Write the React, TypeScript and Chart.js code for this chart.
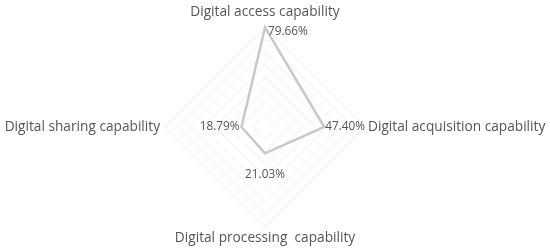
import React, { useEffect, useRef } from "react";
import { Chart, registerables } from "chart.js";

Chart.register(...registerables);

const categories = [
  "Digital access capability",
  "Digital acquisition capability",
  "Digital processing  capability",
  "Digital sharing capability",
];
const values = [79.66, 47.4, 21.03, 18.79];
const valueLabels = ["79.66%", "47.40%", "21.03%", "18.79%"];
const scaleMax = 80;
const scaleStep = 10;

const TEXT = "#555555";
const FONT = "'Open Sans', 'Noto Sans', sans-serif";

const labelPlugin = {
  id: "customLabels",
  afterDatasetsDraw(chart: any) {
    const scale = chart.scales.r;
    const ctx = chart.ctx;
    const meta = chart.getDatasetMeta(0);
    ctx.save();
    ctx.fillStyle = TEXT;
    // category labels
    ctx.font = `13.7px ${FONT}`;
    categories.forEach((c, i) => {
      const p = scale.getPointPosition(i, scale.drawingArea);
      let x = p.x, y = p.y;
      if (i === 0) { ctx.textAlign = "center"; ctx.textBaseline = "middle"; y -= 15; }
      else if (i === 1) { ctx.textAlign = "left"; ctx.textBaseline = "middle"; x += 3; }
      else if (i === 2) { ctx.textAlign = "center"; ctx.textBaseline = "middle"; y += 11; }
      else { ctx.textAlign = "right"; ctx.textBaseline = "middle"; x -= 5; }
      ctx.fillText(c, x, y);
    });
    // value labels
    ctx.font = `11.8px ${FONT}`;
    meta.data.forEach((pt: any, i: number) => {
      let x = pt.x, y = pt.y;
      if (i === 0) { ctx.textAlign = "left"; ctx.textBaseline = "middle"; x += 3; y += 4; }
      else if (i === 1) { ctx.textAlign = "left"; ctx.textBaseline = "middle"; x += 1; }
      else if (i === 2) { ctx.textAlign = "center"; ctx.textBaseline = "middle"; y += 21; }
      else { ctx.textAlign = "right"; ctx.textBaseline = "middle"; x -= 2; }
      ctx.fillText(valueLabels[i], x, y);
    });
    ctx.restore();
  },
};

export default function App() {
  const ref = useRef<HTMLCanvasElement>(null);
  useEffect(() => {
    document.body.style.margin = "0";
    const chart = new Chart(ref.current!, {
      type: "radar",
      data: {
        labels: categories,
        datasets: [
          {
            data: values,
            borderColor: "#c8c8c8",
            borderWidth: 2.5,
            pointRadius: 0,
            fill: false,
            tension: 0,
          },
        ],
      },
      options: {
        animation: false,
        responsive: false,
        layout: { padding: { top: 27, bottom: 23, left: 15, right: 35 } },
        plugins: { legend: { display: false }, tooltip: { enabled: false } },
        scales: {
          r: {
            min: 0,
            max: scaleMax,
            ticks: { display: false, stepSize: scaleStep },
            grid: { color: "#efefef", lineWidth: 1 },
            angleLines: { display: false },
            pointLabels: { display: false },
          },
        },
      },
      plugins: [labelPlugin],
    });
    return () => chart.destroy();
  }, []);
  return (
    <div style={{ width: 550, height: 250, background: "#fff" }}>
      <canvas ref={ref} width={550} height={250} />
    </div>
  );
}
